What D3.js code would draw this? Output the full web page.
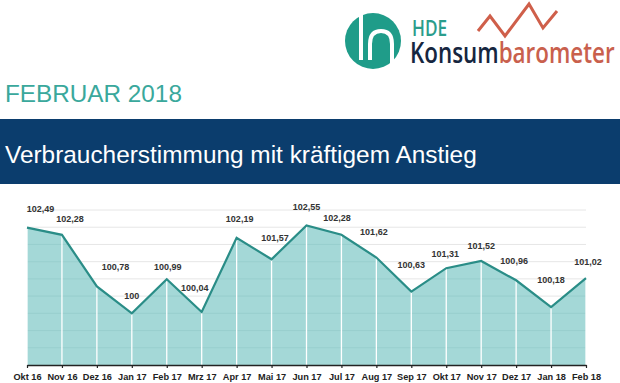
<!DOCTYPE html>
<html>
<head>
<meta charset="utf-8">
<script src="https://cdn.jsdelivr.net/npm/d3@7"></script>
<style>
html,body{margin:0;padding:0;background:#fff;}
svg{display:block;}
</style>
</head>
<body>
<svg id="chart" width="620" height="383"></svg>
<script>
// ---- data ----
const months = ["Okt 16","Nov 16","Dez 16","Jan 17","Feb 17","Mrz 17","Apr 17","Mai 17","Jun 17","Jul 17","Aug 17","Sep 17","Okt 17","Nov 17","Dez 17","Jan 18","Feb 18"];
const values = [102.49,102.28,100.78,100,100.99,100.04,102.19,101.57,102.55,102.28,101.62,100.63,101.31,101.52,100.96,100.18,101.02];
const valueLabels = ["102,49","102,28","100,78","100","100,99","100,04","102,19","101,57","102,55","102,28","101,62","100,63","101,31","101,52","100,96","100,18","101,02"];
const gridTicks = [99,99.5,100,100.5,101,101.5,102,102.5,103];

// label placement (layout only)
const labelDx = [13.5,8,18.6,0,1,-7,3,3.5,0,-4.5,-2.5,0,-1,0,-2,0,2];
const labelDy = [-16,-13,-16,-14,-9,-21,-16,-18,-16,-14,-23,-24,-11,-12,-16,-24,-13];

const svg = d3.select("#chart");
const W = 620;

// ---- logo ----
const logo = svg.append("g");
logo.append("circle").attr("cx",373).attr("cy",41).attr("r",28).attr("fill","#1f9c89");
logo.append("path").attr("d","M361,15 V60").attr("stroke","#fff").attr("stroke-width",4).attr("fill","none");
logo.append("path").attr("d","M370,60 V44 Q370,31 381,31 Q392,31 392,44 V69").attr("stroke","#fff").attr("stroke-width",4).attr("fill","none");
logo.append("path").attr("d","M478,31 L490,16 L505,36 L529,4 L543,28 L557,11")
  .attr("stroke","#cf5f4a").attr("stroke-width",3).attr("fill","none").attr("stroke-linejoin","miter");
const lt = logo.append("g").attr("transform","translate(410,0) scale(0.8,1)");
lt.append("text").attr("x",2.5).attr("y",36).text("HDE")
  .attr("font-family","'Open Sans', sans-serif").attr("font-size",21.5).attr("font-weight",600).attr("fill","#2a9d8c");
const kt = lt.append("text").attr("x",0).attr("y",63)
  .attr("font-family","'Open Sans', sans-serif").attr("font-size",28).attr("font-weight",600);
kt.append("tspan").attr("fill","#162640").text("Konsum");
kt.append("tspan").attr("fill","#c9604d").text("barometer");

// ---- headings ----
svg.append("text").attr("x",5).attr("y",102).text("FEBRUAR 2018")
  .attr("font-family","'Liberation Sans', Arial, sans-serif").attr("font-size",24.3).attr("fill","#3aa89c");
svg.append("rect").attr("x",0).attr("y",119).attr("width",W).attr("height",65).attr("fill","#0b3d6d");
svg.append("text").attr("x",5).attr("y",163).text("Verbraucherstimmung mit kräftigem Anstieg")
  .attr("font-family","'Liberation Sans', Arial, sans-serif").attr("font-size",24.4).attr("fill","#ffffff");

// ---- chart ----
const x = d3.scalePoint().domain(months).range([27,586]);
const y = d3.scaleLinear().domain([98.5,103]).range([365,210]);
const data = months.map((m,i)=>({m, v:values[i], l:valueLabels[i], dx:labelDx[i], dy:labelDy[i]}));

// grid
svg.append("g").selectAll("line").data(gridTicks).join("line")
  .attr("x1",x(months[0])).attr("x2",x(months[months.length-1]))
  .attr("y1",d=>y(d)).attr("y2",d=>y(d))
  .attr("stroke","#e6e6e6").attr("stroke-width",1);

// area
const area = d3.area().x(d=>x(d.m)).y0(y(98.5)).y1(d=>y(d.v));
svg.append("path").datum(data).attr("d",area).attr("fill","#a4d8d7");

// grid inside area (subtle)
svg.append("clipPath").attr("id","areaClip").append("path").datum(data).attr("d",area);
svg.append("g").attr("clip-path","url(#areaClip)").selectAll("line").data(gridTicks).join("line")
  .attr("x1",x(months[0])).attr("x2",x(months[months.length-1]))
  .attr("y1",d=>y(d)).attr("y2",d=>y(d))
  .attr("stroke","#7fb9b8").attr("stroke-opacity",0.3).attr("stroke-width",1);

// vertical white lines
svg.append("g").selectAll("line").data(data).join("line")
  .attr("x1",d=>x(d.m)).attr("x2",d=>x(d.m))
  .attr("y1",y(98.5)).attr("y2",d=>y(d.v))
  .attr("stroke","#ffffff").attr("stroke-width",1.3);

// line
const line = d3.line().x(d=>x(d.m)).y(d=>y(d.v));
svg.append("path").datum(data).attr("d",line).attr("fill","none")
  .attr("stroke","#2a8d87").attr("stroke-width",2.2).attr("stroke-linejoin","miter");

// axis
const axis = d3.axisBottom(x).tickSizeInner(3).tickSizeOuter(0).tickPadding(5);
const ax = svg.append("g").attr("transform",`translate(0,${y(98.5)})`).call(axis);
ax.select(".domain").attr("stroke","#222").attr("stroke-width",1.5);
ax.selectAll(".tick line").attr("stroke","#222").attr("stroke-width",1.2);
ax.selectAll(".tick text").attr("font-family","'Liberation Sans', Arial, sans-serif")
  .attr("font-size",9.2).attr("font-weight","bold").attr("fill","#222");

// value labels
svg.append("g").selectAll("text").data(data).join("text")
  .attr("x",d=>x(d.m)+d.dx).attr("y",d=>y(d.v)+d.dy)
  .attr("text-anchor","middle").text(d=>d.l)
  .attr("font-family","'Liberation Sans', Arial, sans-serif")
  .attr("font-size",9).attr("font-weight","bold").attr("fill","#333");
</script>
</body>
</html>
